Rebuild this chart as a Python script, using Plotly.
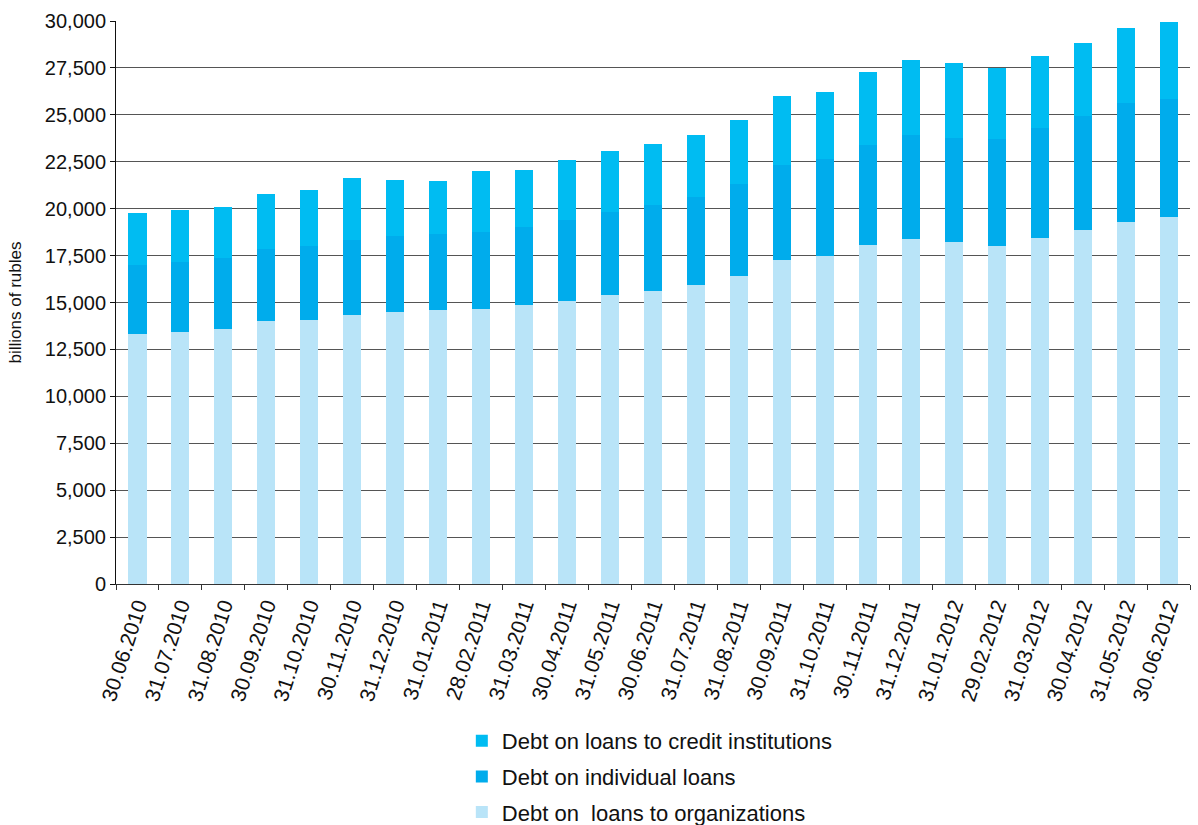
import plotly.graph_objects as go

dates = ["30.06.2010", "31.07.2010", "31.08.2010", "30.09.2010", "31.10.2010", "30.11.2010",
         "31.12.2010", "31.01.2011", "28.02.2011", "31.03.2011", "30.04.2011", "31.05.2011",
         "30.06.2011", "31.07.2011", "31.08.2011", "30.09.2011", "31.10.2011", "30.11.2011",
         "31.12.2011", "31.01.2012", "29.02.2012", "31.03.2012", "30.04.2012", "31.05.2012",
         "30.06.2012"]

# cumulative boundaries (billions of rubles)
top_total = [19780, 19940, 20100, 20790, 21000, 21640, 21540, 21480, 22020, 22080, 22620, 23060,
             23460, 23940, 24740, 26020, 26220, 27300, 27940, 27780, 27520, 28150, 28840, 29640, 29960]
mid_total = [17000, 17160, 17390, 17860, 18020, 18340, 18550, 18660, 18760, 19030, 19400, 19820,
             20200, 20630, 21320, 22340, 22660, 23400, 23940, 23780, 23720, 24310, 24950, 25640, 25860]
organizations = [13340, 13430, 13590, 14020, 14070, 14340, 14500, 14600, 14660, 14870, 15080, 15400,
                 15620, 15940, 16420, 17270, 17490, 18080, 18390, 18230, 18020, 18440, 18870, 19300, 19560]

individuals = [m - o for m, o in zip(mid_total, organizations)]
credit_inst = [t - m for t, m in zip(top_total, mid_total)]

y_ticks = list(range(0, 30001, 2500))

font_family = "Liberation Sans, Arial, sans-serif"

fig = go.Figure()
fig.add_trace(go.Bar(x=dates, y=organizations, name="Debt on\u00a0 loans to organizations",
                     marker=dict(color="#B9E4F8", line=dict(width=0)), legendgroup="c", legendrank=3))
fig.add_trace(go.Bar(x=dates, y=individuals, name="Debt on individual loans",
                     marker=dict(color="#00ACEC", line=dict(width=0)), legendgroup="b", legendrank=2))
fig.add_trace(go.Bar(x=dates, y=credit_inst, name="Debt on loans to credit institutions",
                     marker=dict(color="#00BCF2", line=dict(width=0)), legendgroup="a", legendrank=1))

fig.update_layout(
    barmode="stack",
    bargap=0.58,
    width=1198, height=825,
    margin=dict(l=116, r=8, t=21, b=241, autoexpand=False),
    paper_bgcolor="white", plot_bgcolor="white",
    font=dict(family=font_family, size=17, color="#111111"),
    showlegend=True,
    legend=dict(x=0.322, xanchor="left", y=-0.2416, yanchor="top",
                traceorder="grouped", tracegroupgap=4,
                font=dict(size=22, color="#111111"), bgcolor="rgba(0,0,0,0)"),
    xaxis=dict(type="category", tickangle=-72, showline=True, linecolor="#333333", linewidth=1,
               ticks="outside", tickson="boundaries", ticklen=5, tickcolor="#333333",
               showgrid=False, tickfont=dict(size=21), automargin=False),
    yaxis=dict(range=[0, 30000], tickvals=y_ticks, tickformat=",d", showline=True,
               linecolor="#111111", linewidth=1, ticks="outside", ticklen=5, tickcolor="#111111",
               showgrid=True, gridcolor="#555555", gridwidth=1, zeroline=False,
               title=dict(text="billions of rubles", font=dict(size=17), standoff=18),
               tickfont=dict(size=20), automargin=False),
)

fig.write_html("out.html", config={"displayModeBar": False},
               post_script="document.body.style.margin='0';document.body.style.padding='0';")
